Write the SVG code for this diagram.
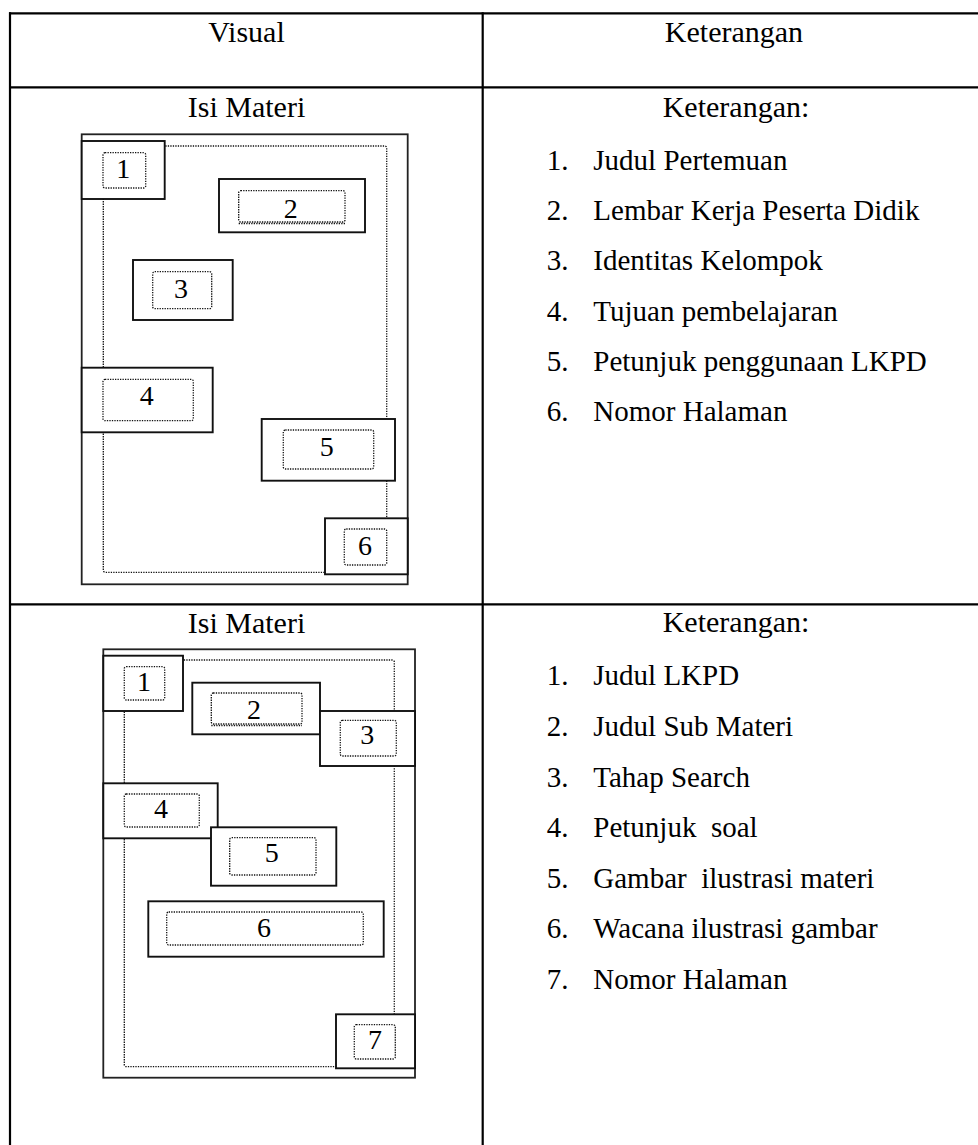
<svg xmlns="http://www.w3.org/2000/svg" width="978" height="1145" viewBox="0 0 978 1145">
  <style>
    .grid { stroke: #000; stroke-width: 2.2; fill: none; }
    .head { font-family: "Liberation Serif", "Times New Roman", serif; font-size: 30px; fill: #000; text-anchor: middle; }
    .item { font-family: "Liberation Serif", "Times New Roman", serif; font-size: 29px; fill: #000; }
    .page { fill: #fff; stroke: #222; stroke-width: 1.8; }
    .margin { fill: none; stroke: #111; stroke-width: 1.3; stroke-dasharray: 1.3 1.2; }
    .box { fill: #fff; stroke: #111; stroke-width: 1.9; }
    .slot { fill: none; stroke: #111; stroke-width: 1.3; stroke-dasharray: 1.3 1.2; }
    .num { font-family: "Liberation Serif", "Times New Roman", serif; font-size: 28px; fill: #000; text-anchor: middle; }
  </style>

  <rect width="978" height="1145" fill="#fff"/>

  <!-- table grid -->
  <g id="table">
    <line class="grid" x1="9" y1="13.3" x2="978" y2="13.3"/>
    <line class="grid" x1="9" y1="87.3" x2="978" y2="87.3"/>
    <line class="grid" x1="9" y1="604.3" x2="978" y2="604.3"/>
    <line class="grid" x1="10" y1="12.2" x2="10" y2="1145"/>
    <line class="grid" x1="482.7" y1="12.2" x2="482.7" y2="1145"/>
    <text class="head" x="246.5" y="41.7">Visual</text>
    <text class="head" x="734" y="41.7">Keterangan</text>
  </g>

  <!-- row 1: page layout -->
  <g id="layout-1">
    <text class="head" x="246.5" y="116.7">Isi Materi</text>
    <rect class="page" x="81.7" y="134.3" width="326" height="450"/>
    <rect class="margin" x="103.3" y="146" width="283.4" height="426.3" rx="2"/>
    <g id="l1-box1">
      <rect class="box" x="81.7" y="141" width="83" height="58"/>
      <rect class="slot" x="103" y="152.7" width="42.7" height="35.3" rx="2"/>
      <text class="num" x="123.3" y="178.3">1</text>
    </g>
    <g id="l1-box2">
      <rect class="box" x="219" y="179" width="146" height="53.3"/>
      <rect class="slot" x="238.7" y="190.7" width="106.3" height="31.3" rx="2"/>
      <line class="slot" x1="238.7" y1="223.5" x2="345" y2="223.5"/>
      <text class="num" x="290.7" y="218.3">2</text>
    </g>
    <g id="l1-box3">
      <rect class="box" x="133" y="260" width="99.7" height="60"/>
      <rect class="slot" x="152.7" y="271.7" width="59" height="37" rx="2"/>
      <text class="num" x="181" y="297.7">3</text>
    </g>
    <g id="l1-box4">
      <rect class="box" x="81.7" y="367.7" width="131" height="64.6"/>
      <rect class="slot" x="103" y="379.3" width="90.3" height="41.4" rx="2"/>
      <text class="num" x="146.7" y="405">4</text>
    </g>
    <g id="l1-box5">
      <rect class="box" x="261.7" y="419" width="133.3" height="61.7"/>
      <rect class="slot" x="283.3" y="430" width="90.4" height="39" rx="2"/>
      <text class="num" x="326.7" y="456">5</text>
    </g>
    <g id="l1-box6">
      <rect class="box" x="325" y="518.3" width="82.7" height="56"/>
      <rect class="slot" x="344.3" y="529" width="42.4" height="36" rx="2"/>
      <text class="num" x="365" y="555">6</text>
    </g>
  </g>

  <g id="legend-1">
    <text class="head" x="736" y="116.7">Keterangan:</text>
    <g class="item">
      <text x="546.7" y="170">1.</text><text x="593.3" y="170">Judul Pertemuan</text>
      <text x="546.7" y="220">2.</text><text x="593.3" y="220">Lembar Kerja Peserta Didik</text>
      <text x="546.7" y="270">3.</text><text x="593.3" y="270">Identitas Kelompok</text>
      <text x="546.7" y="321">4.</text><text x="593.3" y="321">Tujuan pembelajaran</text>
      <text x="546.7" y="371">5.</text><text x="593.3" y="371">Petunjuk penggunaan LKPD</text>
      <text x="546.7" y="421">6.</text><text x="593.3" y="421">Nomor Halaman</text>
    </g>
  </g>

  <!-- row 2: page layout -->
  <g id="layout-2">
    <text class="head" x="246.5" y="633">Isi Materi</text>
    <rect class="page" x="103.3" y="649.3" width="311.7" height="428.4"/>
    <rect class="margin" x="124.3" y="660" width="270" height="406.7" rx="2"/>
    <g id="l2-box1">
      <rect class="box" x="103.3" y="655.7" width="79.7" height="55.3"/>
      <rect class="slot" x="124.3" y="666.7" width="40.4" height="33.3" rx="2"/>
      <text class="num" x="144" y="690.7">1</text>
    </g>
    <g id="l2-box2">
      <rect class="box" x="192.3" y="682.7" width="127.7" height="51.6"/>
      <rect class="slot" x="211.3" y="693" width="90.7" height="31" rx="2"/>
      <line class="slot" x1="211.3" y1="725.5" x2="302" y2="725.5"/>
      <text class="num" x="254" y="719">2</text>
    </g>
    <g id="l2-box3">
      <rect class="box" x="320" y="711" width="95" height="55"/>
      <rect class="slot" x="340.3" y="720.3" width="56" height="35.7" rx="2"/>
      <text class="num" x="367.3" y="744.3">3</text>
    </g>
    <g id="l2-box4">
      <rect class="box" x="103.3" y="783.3" width="114.4" height="55"/>
      <rect class="slot" x="124.3" y="794" width="75" height="33" rx="2"/>
      <text class="num" x="161" y="817.7">4</text>
    </g>
    <g id="l2-box5">
      <rect class="box" x="211" y="827.3" width="125.3" height="58.4"/>
      <rect class="slot" x="229.7" y="837.7" width="86.3" height="37.3" rx="2"/>
      <text class="num" x="271.7" y="862.3">5</text>
    </g>
    <g id="l2-box6">
      <rect class="box" x="148.3" y="901.3" width="235.4" height="55.4"/>
      <rect class="slot" x="166.7" y="912" width="196.6" height="33" rx="2"/>
      <text class="num" x="264" y="936.7">6</text>
    </g>
    <g id="l2-box7">
      <rect class="box" x="336" y="1014.3" width="79" height="54"/>
      <rect class="slot" x="354.3" y="1024.7" width="41" height="34.3" rx="2"/>
      <text class="num" x="375" y="1049.3">7</text>
    </g>
  </g>

  <g id="legend-2">
    <text class="head" x="736" y="632">Keterangan:</text>
    <g class="item">
      <text x="546.7" y="685">1.</text><text x="593.3" y="685">Judul LKPD</text>
      <text x="546.7" y="736">2.</text><text x="593.3" y="736">Judul Sub Materi</text>
      <text x="546.7" y="786.5">3.</text><text x="593.3" y="786.5">Tahap Search</text>
      <text x="546.7" y="837">4.</text><text x="593.3" y="837" xml:space="preserve">Petunjuk  soal</text>
      <text x="546.7" y="888">5.</text><text x="593.3" y="888" xml:space="preserve">Gambar  ilustrasi materi</text>
      <text x="546.7" y="938">6.</text><text x="593.3" y="938">Wacana ilustrasi gambar</text>
      <text x="546.7" y="988.5">7.</text><text x="593.3" y="988.5">Nomor Halaman</text>
    </g>
  </g>
</svg>
